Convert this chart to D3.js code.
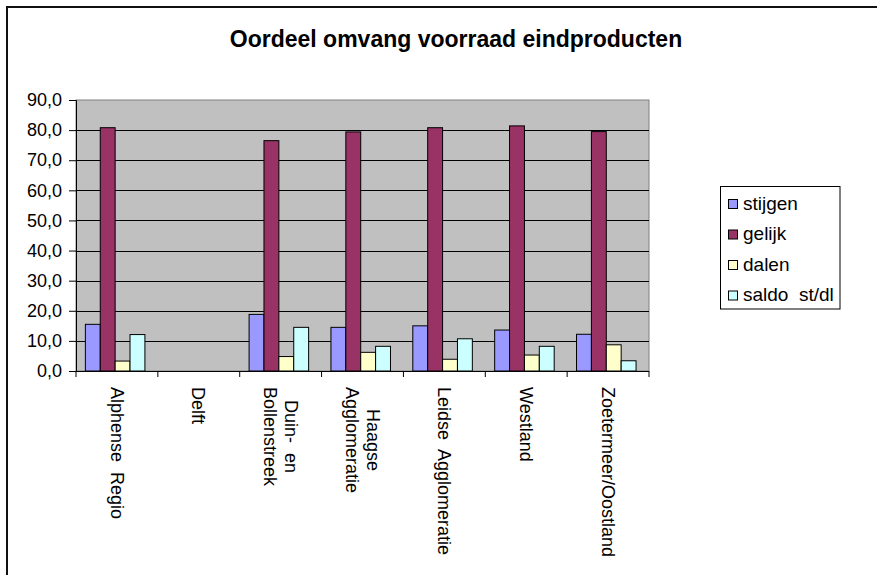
<!doctype html>
<html>
<head>
<meta charset="utf-8">
<title>Oordeel omvang voorraad eindproducten</title>
<script src="https://cdn.jsdelivr.net/npm/d3@7"></script>
<style>
  body { margin: 0; background: #fff; }
  svg text { font-family: "Liberation Sans", Arial, sans-serif; white-space: pre; }
</style>
</head>
<body>
<svg id="chart" width="877" height="575"></svg>
<script>
// data
var regions = ["Alphense  Regio", "Delft", "Duin-  en\nBollenstreek", "Haagse\nAgglomeratie",
  "Leidse  Agglomeratie", "Westland", "Zoetermeer/Oostland"];
var seriesNames = ["stijgen", "gelijk", "dalen", "saldo  st/dl"];
var stijgen = [15.5, null, 18.8, 14.5, 15.0, 13.6, 12.2];
var gelijk  = [80.8, null, 76.5, 79.4, 80.8, 81.4, 79.5];
var dalen   = [3.3, null, 4.8, 6.2, 3.9, 5.3, 8.7];
var saldo   = [12.1, null, 14.5, 8.2, 10.7, 8.2, 3.4];
var yTicks  = [0, 10, 20, 30, 40, 50, 60, 70, 80, 90];
var colors  = ["#9999FF", "#993366", "#FFFFCC", "#CCFFFF"];

var values = [stijgen, gelijk, dalen, saldo];
var svg = d3.select("#chart");

// outer chart frame
svg.append("rect").attr("x", 7).attr("y", 7).attr("width", 900).attr("height", 600)
  .attr("fill", "none").attr("stroke", "#111").attr("stroke-width", 2);

svg.append("text").attr("x", 456).attr("y", 47).attr("text-anchor", "middle")
  .style("font-size", "23px").style("font-weight", "bold")
  .text("Oordeel omvang voorraad eindproducten");

var plot = { left: 76, right: 649, top: 100, bottom: 371 };

var x0 = d3.scaleBand().domain(d3.range(regions.length)).range([plot.left, plot.right]);
var x1 = d3.scaleBand().domain(d3.range(seriesNames.length)).range([0, x0.bandwidth()])
  .paddingOuter(0.75).align(0.42);
var y = d3.scaleLinear().domain([0, 90]).range([plot.bottom, plot.top]);

// plot background
svg.append("rect").attr("x", plot.left).attr("y", plot.top)
  .attr("width", plot.right - plot.left).attr("height", plot.bottom - plot.top)
  .attr("fill", "#C0C0C0").attr("stroke", "#808080").attr("stroke-width", 1);

// gridlines
svg.append("g").selectAll("line").data(yTicks.filter(function(d) { return d > 0 && d < 90; }))
  .join("line")
  .attr("x1", plot.left).attr("x2", plot.right)
  .attr("y1", function(d) { return Math.round(y(d)) + 0.5; })
  .attr("y2", function(d) { return Math.round(y(d)) + 0.5; })
  .attr("stroke", "#000").attr("stroke-width", 1);

// bars
var groups = svg.append("g").selectAll("g").data(values).join("g")
  .attr("fill", function(d, i) { return colors[i]; });
groups.each(function(vals, si) {
  d3.select(this).selectAll("rect")
    .data(vals.map(function(v, ci) { return { v: v, c: ci }; }).filter(function(d) { return d.v != null; }))
    .join("rect")
    .attr("x", function(d) { return x0(d.c) + x1(si); })
    .attr("y", function(d) { return y(d.v); })
    .attr("width", x1.bandwidth())
    .attr("height", function(d) { return y(0) - y(d.v); })
    .attr("stroke", "#000").attr("stroke-width", 1);
});

// y axis
var yAxis = d3.axisLeft(y).tickValues(yTicks).tickSize(7).tickPadding(7)
  .tickFormat(function(d) { return d3.format(".1f")(d).replace(".", ","); });
var gy = svg.append("g").attr("transform", "translate(" + plot.left + ",0)").call(yAxis);
gy.select(".domain").attr("stroke", "#000");
gy.selectAll("text").style("font-size", "18px").attr("fill", "#000");

// x axis line and ticks at category boundaries
var gx = svg.append("g");
gx.append("line").attr("x1", plot.left).attr("x2", plot.right)
  .attr("y1", plot.bottom + 0.5).attr("y2", plot.bottom + 0.5).attr("stroke", "#000");
gx.selectAll("line.tick").data(d3.range(regions.length + 1)).join("line").attr("class", "tick")
  .attr("x1", function(i) { return plot.left + i * x0.bandwidth(); })
  .attr("x2", function(i) { return plot.left + i * x0.bandwidth(); })
  .attr("y1", plot.bottom).attr("y2", plot.bottom + 6).attr("stroke", "#000");

// rotated category labels, first line on the right, longest line starts under the axis
var labelTop = 387, lineH = 21;
regions.forEach(function(r, ci) {
  var lines = r.split("\n");
  var cx = x0(ci) + x0.bandwidth() / 2;
  var t = gx.append("text").style("font-size", "18px").attr("text-anchor", "middle");
  lines.forEach(function(l, li) {
    t.append("tspan").attr("x", 0)
      .attr("y", (li - (lines.length - 1) / 2) * lineH)
      .attr("dy", "0.35em").text(l);
  });
  var maxLen = d3.max(t.selectAll("tspan").nodes(), function(n) { return n.getComputedTextLength(); });
  t.attr("transform", "translate(" + cx + "," + (labelTop + maxLen / 2) + ") rotate(90)");
});

// legend
var lg = svg.append("g");
lg.append("rect").attr("x", 720.5).attr("y", 186.5).attr("width", 119.5).attr("height", 122.5)
  .attr("fill", "#fff").attr("stroke", "#000");
seriesNames.forEach(function(s, i) {
  var by = 209 + i * 30.5;
  lg.append("rect").attr("x", 728.5).attr("y", by - 9.5).attr("width", 9).attr("height", 9)
    .attr("fill", colors[i]).attr("stroke", "#000");
  lg.append("text").attr("x", 743).attr("y", by + 0.5).style("font-size", "19px").text(s);
});
</script>
</body>
</html>
